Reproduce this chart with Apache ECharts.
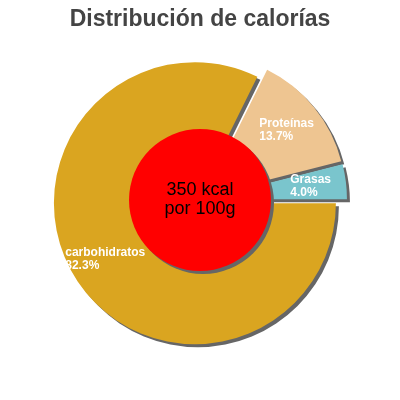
<!DOCTYPE html>
<html>
<head>
<meta charset="utf-8">
<script src="https://cdn.jsdelivr.net/npm/echarts@6/dist/echarts.min.js"></script>
<style>
  html, body { margin: 0; padding: 0; background: #fff; }
  #main { width: 400px; height: 400px; }
</style>
</head>
<body>
<div id="main"></div>
<script>
// datos
const categories = ['Proteínas', 'Grasas', 'carbohidratos'];
const percents = [13.7, 4.0, 82.3];
const colors = ['#EEC591', '#7AC5CD', '#DAA520'];
const centerLines = ['350 kcal', 'por 100g'];

const chart = echarts.init(document.getElementById('main'), null, { renderer: 'canvas' });

const shadow = {
  shadowColor: '#666',
  shadowBlur: 0,
  shadowOffsetX: 3,
  shadowOffsetY: 3
};

var option = {
  animation: false,
  title: {
    text: 'Distribución de calorías',
    left: 'center',
    top: 3,
    textStyle: {
      fontFamily: 'Liberation Sans',
      fontSize: 23,
      fontWeight: 'bold',
      color: '#444'
    }
  },
  series: [
    {
      type: 'pie',
      z: 2,
      center: [200, 200],
      radius: [64, 141],
      startAngle: 63.7,
      clockwise: true,
      selectedMode: 'multiple',
      selectedOffset: 6,
      silent: true,
      label: {
        show: true,
        position: 'inside',
        color: '#fff',
        fontFamily: 'Liberation Sans',
        fontSize: 12,
        fontWeight: 'bold',
        lineHeight: 13,
        formatter: p => '{a|' + p.name + '}\n{a|' + p.value.toFixed(1) + '%}',
        rich: {
          a: {
            align: 'left',
            color: '#fff',
            fontFamily: 'Liberation Sans',
            fontSize: 12,
            fontWeight: 'bold',
            lineHeight: 13
          }
        }
      },
      labelLine: { show: false },
      itemStyle: shadow,
      data: categories.map((c, i) => ({
        name: c,
        value: percents[i],
        selected: true,
        itemStyle: { color: colors[i] }
      }))
    },
    {
      type: 'pie',
      z: 6,
      center: [200, 200],
      radius: [0, 71],
      silent: true,
      label: {
        show: true,
        position: 'center',
        color: '#000',
        fontFamily: 'Liberation Sans',
        fontSize: 18,
        lineHeight: 19,
        formatter: centerLines.join('\n')
      },
      labelLine: { show: false },
      itemStyle: Object.assign({ color: '#FF0000' }, shadow),
      data: [{ name: 'kcal', value: 1 }]
    }
  ]
};

chart.setOption(option);
</script>
</body>
</html>
